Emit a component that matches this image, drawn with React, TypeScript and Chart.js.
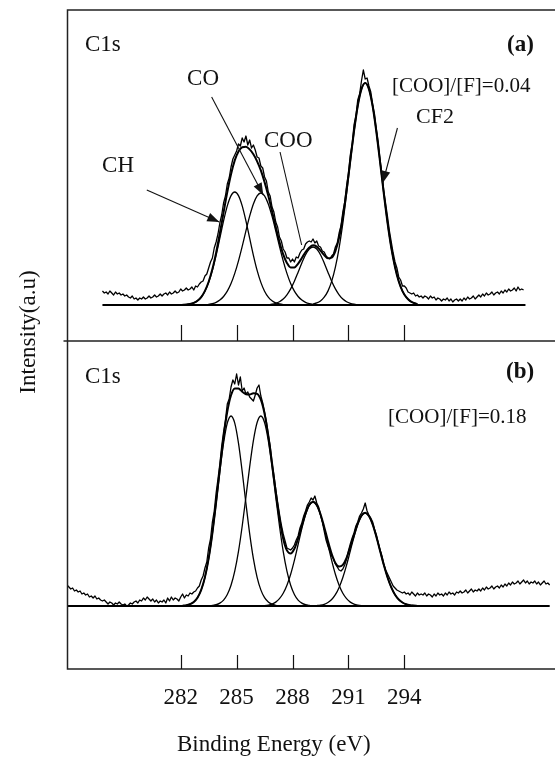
import React, { useEffect, useRef } from "react";
import { Chart, registerables } from "chart.js";

Chart.register(...registerables);

const FONT = '"Liberation Serif", "Times New Roman", serif';

// Energy window of the frame (eV) and labelled energies
const E_MIN = 275.925;
const E_MAX = 302.085;
const energyTicks = [282, 285, 288, 291, 294];

// Intensity windows (a.u.): both panels share the frame, each with its own scale
const A_MIN = -364;
const A_MAX = 295;
const A_FLOOR = -36; // lower edge of panel (a)
const B_MIN = -63;
const B_MAX = 596;

// Measured C1s spectra, one value every 0.1 eV
const RAW_STEP = 0.1;
const rawAStart = 277.8;
const rawA = [
  14, 12,
  13, 11, 14, 12, 10, 13, 11, 12, 10, 11,
  9, 10, 8, 7, 9, 6, 7, 5, 7, 6,
  8, 6, 7, 9, 7, 8, 10, 8, 9, 11,
  9, 11, 12, 10, 13, 11, 12, 14, 12, 13,
  16, 14, 15, 17, 15, 16, 18, 15, 19, 18,
  21, 23, 24, 29, 31, 37, 43, 47, 57, 63,
  71, 82, 90, 102, 109, 121, 127, 138, 146, 150,
  154, 161, 159, 167, 163, 169, 160, 165, 157, 160,
  155, 148, 147, 139, 137, 128, 124, 113, 109, 98,
  93, 83, 78, 68, 64, 56, 53, 47, 47, 43,
  46, 43, 48, 47, 52, 55, 56, 61, 63, 64,
  63, 66, 62, 64, 59, 58, 54, 53, 49, 47,
  46, 49, 51, 58, 62, 72, 79, 93, 103, 119,
  132, 150, 161, 180, 189, 205, 211, 224, 235, 226,
  227, 219, 213, 201, 191, 176, 163, 145, 131, 114,
  101, 88, 74, 63, 52, 43, 37, 28, 25, 19,
  19, 17, 13, 12, 11, 12, 9, 10, 8, 9,
  7, 9, 8, 6, 9, 7, 8, 5, 7, 6,
  4, 6, 5, 7, 4, 6, 3, 5, 6, 4,
  6, 4, 7, 5, 8, 6, 7, 9, 6, 8,
  10, 8, 11, 9, 12, 10, 11, 13, 10, 12,
  13, 11, 14, 12, 15, 13, 16, 14, 15, 17,
  14, 18, 15, 16, 15,
];

const rawBStart = 275.9;
const rawB = [
  21,
  19, 17, 18, 15, 16, 14, 15, 12, 13, 11,
  12, 9, 10, 8, 10, 7, 8, 6, 5, 6,
  4, 2, 4, 3, 1, 3, 2, 4, 2, 1,
  2, 0, 1, 3, 2, 4, 5, 3, 6, 5,
  8, 6, 9, 7, 5, 7, 4, 6, 3, 5,
  4, 6, 3, 8, 5, 9, 6, 8, 7, 5,
  9, 12, 8, 11, 10, 13, 12, 14, 15, 18,
  20, 26, 30, 38, 44, 58, 67, 84, 95, 113,
  127, 142, 160, 174, 186, 202, 207, 219, 226, 222,
  232, 221, 229, 215, 218, 212, 214, 209, 207, 205,
  211, 218, 221, 210, 203, 194, 184, 171, 160, 143,
  131, 117, 104, 92, 81, 72, 65, 58, 57, 56,
  58, 61, 66, 70, 78, 83, 90, 95, 101, 104,
  108, 106, 110, 103, 99, 91, 84, 75, 66, 60,
  55, 50, 47, 42, 39, 36, 35, 37, 41, 47,
  55, 62, 68, 73, 80, 84, 90, 93, 97, 103,
  95, 91, 88, 84, 77, 71, 63, 56, 50, 42,
  36, 32, 28, 24, 20, 18, 16, 15, 14, 13,
  14, 12, 13, 11, 14, 12, 10, 13, 11, 12,
  11, 13, 10, 12, 11, 9, 12, 10, 13, 11,
  12, 10, 13, 11, 14, 12, 13, 11, 14, 13,
  15, 13, 14, 16, 13, 15, 17, 14, 16, 15,
  17, 15, 18, 16, 19, 17, 18, 20, 17, 19,
  20, 18, 21, 19, 22, 20, 23, 21, 24, 22,
  23, 25, 22, 24, 26, 23, 25, 22, 24, 23,
  25, 22, 24, 21, 23, 25, 22, 23, 21,
];

// Fitted components, one value every 0.2 eV from their first energy
const FIT_STEP = 0.2;
const aCHStart = 282.1;
const aCH = [0.2, 0.4, 1.0, 2.1, 4.2, 7.9, 13.8, 22.6, 34.6, 49.7, 66.8, 84.1, 99.1, 109.4, 113, 109.4, 99.1, 84.1, 66.8, 49.7, 34.6, 22.6, 13.8, 7.9, 4.2, 2.1, 1.0, 0.4, 0.2];
const aCOStart = 283.3;
const aCO = [0.3, 0.7, 1.4, 2.7, 4.9, 8.5, 13.8, 21.4, 31.6, 44.2, 58.7, 74.1, 88.8, 101.0, 109.1, 112, 109.1, 101.0, 88.8, 74.1, 58.7, 44.2, 31.6, 21.4, 13.8, 8.5, 4.9, 2.7, 1.4, 0.7, 0.3];
const aCOOStart = 286.7;
const aCOO = [0.3, 0.8, 1.7, 3.3, 6.0, 10.2, 16.1, 23.8, 32.8, 42.1, 50.3, 56.0, 58, 56.0, 50.3, 42.1, 32.8, 23.8, 16.1, 10.2, 6.0, 3.3, 1.7, 0.8, 0.3];
const aCF2Start = 289.1;
const aCF2 = [1.0, 2.1, 4.1, 7.8, 13.9, 23.6, 37.8, 57.2, 81.9, 111.1, 142.6, 173.0, 198.7, 215.9, 222, 215.9, 198.7, 173.0, 142.6, 111.1, 81.9, 57.2, 37.8, 23.6, 13.9, 7.8, 4.1, 2.1, 1.0];

const bCHStart = 282.1;
const bCH = [0.3, 0.7, 1.8, 4.0, 8.3, 16.1, 28.7, 47.4, 72.4, 102.5, 134.3, 162.8, 182.8, 190, 182.8, 162.8, 134.3, 102.5, 72.4, 47.4, 28.7, 16.1, 8.3, 4.0, 1.8, 0.7, 0.3];
const bCOStart = 283.5;
const bCO = [0.2, 0.6, 1.3, 2.9, 5.9, 11.5, 20.7, 34.8, 54.6, 80.0, 109.2, 139.1, 165.4, 183.5, 190, 183.5, 165.4, 139.1, 109.2, 80.0, 54.6, 34.8, 20.7, 11.5, 5.9, 2.9, 1.3, 0.6, 0.2];
const bCOOStart = 286.3;
const bCOO = [0.2, 0.4, 0.9, 1.9, 3.9, 7.3, 12.7, 20.8, 31.8, 45.7, 61.5, 77.4, 91.2, 100.6, 104, 100.6, 91.2, 77.4, 61.5, 45.7, 31.8, 20.8, 12.7, 7.3, 3.9, 1.9, 0.9, 0.4, 0.2];
const bCF2Start = 289.1;
const bCF2 = [0.1, 0.4, 0.8, 1.7, 3.5, 6.5, 11.3, 18.6, 28.5, 40.9, 55.0, 69.2, 81.5, 90.0, 93, 90.0, 81.5, 69.2, 55.0, 40.9, 28.5, 18.6, 11.3, 6.5, 3.5, 1.7, 0.8, 0.4, 0.1];

// Extent of the zero-intensity line under each spectrum (eV)
const zeroLineA = [277.8, 300.5];
const zeroLineB = [275.9, 301.8];

// Panel texts and pointer arrows, placed in (eV, intensity) of their panel
const textsA = [
  { text: "C1s", e: 276.86, v: 254, size: 23, bold: false },
  { text: "(a)", e: 299.51, v: 254, size: 23, bold: true },
  { text: "[COO]/[F]=0.04", e: 293.34, v: 213, size: 21, bold: false },
  { text: "CO", e: 282.34, v: 220, size: 23, bold: false },
  { text: "CH", e: 277.78, v: 133, size: 23, bold: false },
  { text: "COO", e: 286.47, v: 158, size: 23, bold: false },
  { text: "CF2", e: 294.63, v: 182, size: 22, bold: false },
];
const arrowsA = [
  { from: [280.18, 115], to: [284.07, 83], head: true },
  { from: [283.66, 208], to: [286.43, 110], head: true },
  { from: [287.33, 153], to: [288.49, 60], head: false },
  { from: [293.63, 177], to: [292.84, 122], head: true },
];
const textsB = [
  { text: "C1s", e: 276.86, v: 223, size: 23, bold: false },
  { text: "(b)", e: 299.46, v: 228, size: 23, bold: true },
  { text: "[COO]/[F]=0.18", e: 293.13, v: 183, size: 21, bold: false },
];

const X_TITLE = "Binding Energy (eV)";
const Y_TITLE = "Intensity(a.u)";

type Pt = { x: number; y: number };

const series = (start: number, step: number, vals: number[]): Pt[] =>
  vals.map((y, i) => ({ x: +(start + i * step).toFixed(2), y }));

// Fit envelope: sum of the components on their common 0.2 eV grid
function envelope(peaks: { start: number; vals: number[] }[]): Pt[] {
  const first = Math.min(...peaks.map((p) => p.start));
  const last = Math.max(...peaks.map((p) => p.start + (p.vals.length - 1) * FIT_STEP));
  const n = Math.round((last - first) / FIT_STEP);
  const pts: Pt[] = [];
  for (let k = 0; k <= n; k++) {
    const x = first + k * FIT_STEP;
    let y = 0;
    for (const p of peaks) {
      const i = Math.round((x - p.start) / FIT_STEP);
      if (i >= 0 && i < p.vals.length) y += p.vals[i];
    }
    pts.push({ x: +x.toFixed(2), y: +y.toFixed(2) });
  }
  return pts;
}

function drawArrow(ctx: CanvasRenderingContext2D, x1: number, y1: number, x2: number, y2: number, head: boolean) {
  ctx.beginPath();
  ctx.moveTo(x1, y1);
  ctx.lineTo(x2, y2);
  ctx.stroke();
  if (!head) return;
  const a = Math.atan2(y2 - y1, x2 - x1);
  const L = 12;
  const W = 4.5;
  ctx.beginPath();
  ctx.moveTo(x2, y2);
  ctx.lineTo(x2 - L * Math.cos(a) + W * Math.sin(a), y2 - L * Math.sin(a) - W * Math.cos(a));
  ctx.lineTo(x2 - L * Math.cos(a) - W * Math.sin(a), y2 - L * Math.sin(a) + W * Math.cos(a));
  ctx.closePath();
  ctx.fill();
}

const decorations = {
  id: "decorations",
  beforeDraw(chart: any) {
    const { ctx, width, height } = chart;
    ctx.save();
    ctx.fillStyle = "#fff";
    ctx.fillRect(0, 0, width, height);
    ctx.restore();
  },
  afterDatasetsDraw(chart: any) {
    const { ctx, chartArea: ca, scales } = chart;
    const sx = scales.x;
    const sa = scales.yA;
    const sb = scales.yB;
    const split = sa.getPixelForValue(A_FLOOR);

    ctx.save();
    // frame and panel divider
    ctx.strokeStyle = "#222";
    ctx.lineWidth = 1.5;
    ctx.beginPath();
    ctx.moveTo(ca.right, ca.top);
    ctx.lineTo(ca.left, ca.top);
    ctx.lineTo(ca.left, ca.bottom);
    ctx.lineTo(ca.right, ca.bottom);
    ctx.moveTo(ca.left - 4, split);
    ctx.lineTo(ca.right, split);
    ctx.stroke();

    // energy tick marks, pointing up into each panel
    ctx.strokeStyle = "#111";
    ctx.lineWidth = 1.2;
    ctx.beginPath();
    for (const v of energyTicks) {
      const px = Math.round(sx.getPixelForValue(v)) + 0.5;
      ctx.moveTo(px, split);
      ctx.lineTo(px, split - 16);
      ctx.moveTo(px, ca.bottom);
      ctx.lineTo(px, ca.bottom - 14);
    }
    ctx.stroke();

    ctx.fillStyle = "#111";
    ctx.textBaseline = "alphabetic";

    // tick labels
    ctx.font = `23px ${FONT}`;
    ctx.textAlign = "center";
    for (const v of energyTicks) ctx.fillText(String(v), sx.getPixelForValue(v), ca.bottom + 35);

    // axis titles
    ctx.textAlign = "left";
    ctx.fillText(X_TITLE, 177, ca.bottom + 82);
    ctx.save();
    ctx.translate(35, 332);
    ctx.rotate(-Math.PI / 2);
    ctx.textAlign = "center";
    ctx.fillText(Y_TITLE, 0, 0);
    ctx.restore();

    // panel texts
    ctx.textAlign = "left";
    const put = (list: typeof textsA, sy: any) => {
      for (const t of list) {
        ctx.font = `${t.bold ? "bold " : ""}${t.size}px ${FONT}`;
        ctx.fillText(t.text, sx.getPixelForValue(t.e), sy.getPixelForValue(t.v));
      }
    };
    put(textsA, sa);
    put(textsB, sb);

    // pointer arrows
    ctx.strokeStyle = "#111";
    ctx.fillStyle = "#111";
    ctx.lineWidth = 1.1;
    for (const a of arrowsA) {
      drawArrow(
        ctx,
        sx.getPixelForValue(a.from[0]),
        sa.getPixelForValue(a.from[1]),
        sx.getPixelForValue(a.to[0]),
        sa.getPixelForValue(a.to[1]),
        a.head
      );
    }
    ctx.restore();
  },
};

export default function App() {
  const canvasRef = useRef<HTMLCanvasElement | null>(null);

  useEffect(() => {
    const canvas = canvasRef.current;
    if (!canvas) return;

    const line = (data: Pt[], axis: string, width: number, smooth: boolean) => ({
      data,
      yAxisID: axis,
      borderColor: "#000",
      borderWidth: width,
      pointRadius: 0,
      fill: false,
      tension: 0,
      cubicInterpolationMode: smooth ? "monotone" : "default",
      borderJoinStyle: "round",
    });

    const peaksA = [
      { start: aCHStart, vals: aCH },
      { start: aCOStart, vals: aCO },
      { start: aCOOStart, vals: aCOO },
      { start: aCF2Start, vals: aCF2 },
    ];
    const peaksB = [
      { start: bCHStart, vals: bCH },
      { start: bCOStart, vals: bCO },
      { start: bCOOStart, vals: bCOO },
      { start: bCF2Start, vals: bCF2 },
    ];

    const datasets: any[] = [
      line(zeroLineA.map((x) => ({ x, y: 0 })), "yA", 2, false),
      line(zeroLineB.map((x) => ({ x, y: 0 })), "yB", 2, false),
      ...peaksA.map((p) => line(series(p.start, FIT_STEP, p.vals), "yA", 1.3, true)),
      ...peaksB.map((p) => line(series(p.start, FIT_STEP, p.vals), "yB", 1.3, true)),
      line(envelope(peaksA), "yA", 2, true),
      line(envelope(peaksB), "yB", 2, true),
      line(series(rawAStart, RAW_STEP, rawA), "yA", 1.3, false),
      line(series(rawBStart, RAW_STEP, rawB), "yB", 1.3, false),
    ];

    const chart = new Chart(canvas, {
      type: "line",
      data: { datasets },
      options: {
        responsive: false,
        animation: false,
        events: [],
        layout: { padding: { left: 67.5, top: 10, right: 0, bottom: 90 } },
        plugins: { legend: { display: false }, tooltip: { enabled: false } },
        scales: {
          x: { type: "linear", min: E_MIN, max: E_MAX, display: false },
          yA: { type: "linear", min: A_MIN, max: A_MAX, display: false },
          yB: { type: "linear", min: B_MIN, max: B_MAX, display: false },
        },
      },
      plugins: [decorations],
    } as any);

    return () => chart.destroy();
  }, []);

  return (
    <div style={{ position: "absolute", left: 0, top: 0, width: 555, height: 759, background: "#fff" }}>
      <canvas ref={canvasRef} width={555} height={759} style={{ display: "block", width: 555, height: 759 }} />
    </div>
  );
}
